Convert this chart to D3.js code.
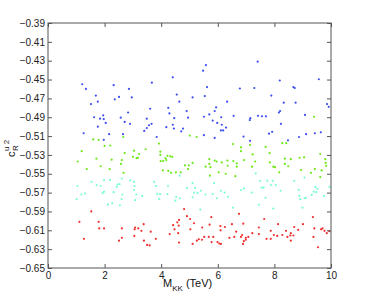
<!DOCTYPE html>
<html>
<head>
<meta charset="utf-8">
<script src="https://cdn.jsdelivr.net/npm/d3@7"></script>
<style>
  body { margin: 0; background: #fff; }
  svg { display: block; font-family: "Liberation Sans", Arial, sans-serif; }
</style>
</head>
<body>
<script>
// scan points, [M_KK in TeV, c_R^u2]
const bluePts = [
  [1.21,-0.455],[1.34,-0.460],[2.32,-0.456],[1.69,-0.467],[2.51,-0.4685],[2.36,-0.471],[1.52,-0.476],[1.76,-0.4735],
  [1.63,-0.490],[1.84,-0.4915],[1.95,-0.488],[1.97,-0.492],[2.57,-0.4905],[2.04,-0.496],[1.76,-0.500],[1.26,-0.507],
  [2.16,-0.508],[2.65,-0.508],[1.97,-0.514],
  [4.41,-0.4476],[3.67,-0.4533],[2.86,-0.460],[2.96,-0.469],[4.55,-0.466],[3.61,-0.481],[4.25,-0.480],[2.83,-0.485],
  [4.29,-0.486],[4.46,-0.491],[3.49,-0.4915],[2.71,-0.495],[2.90,-0.497],[3.66,-0.497],[3.57,-0.4985],[3.49,-0.5015],
  [4.18,-0.5005],[4.41,-0.498],[4.45,-0.502],[3.40,-0.5045],[3.84,-0.511],
  [5.58,-0.4346],[5.48,-0.4406],[5.62,-0.458],[5.11,-0.469],[5.54,-0.4675],[4.64,-0.4735],[6.33,-0.4735],[5.94,-0.4795],
  [5.89,-0.4835],[4.90,-0.4835],[5.70,-0.487],[4.95,-0.4905],[5.51,-0.4895],[6.12,-0.490],[5.82,-0.4935],[5.98,-0.496],
  [6.14,-0.498],[6.29,-0.501],[4.77,-0.502],[4.71,-0.505],[6.11,-0.504],[6.19,-0.504],[5.51,-0.509],[5.89,-0.512],
  [7.41,-0.431],[8.19,-0.451],[6.78,-0.4595],[7.29,-0.459],[7.89,-0.467],[8.20,-0.4835],[8.16,-0.485],[6.56,-0.4885],
  [7.15,-0.491],[7.13,-0.493],[7.42,-0.4885],[7.56,-0.489],[7.70,-0.489],[8.23,-0.497],[7.92,-0.5055],[7.81,-0.5075],
  [6.91,-0.5105],[7.14,-0.515],
  [9.57,-0.4497],[8.67,-0.458],[8.72,-0.459],[8.33,-0.4745],[8.75,-0.4745],[9.86,-0.476],[9.92,-0.479],[9.08,-0.4875],
  [8.48,-0.5145],[8.87,-0.511],[9.12,-0.508],[9.43,-0.507],[9.64,-0.506]
];

const greenPts = [
  [1.60,-0.5135],[1.79,-0.514],[2.00,-0.5205],[2.20,-0.520],[2.66,-0.511],[1.19,-0.526],[1.05,-0.537],[1.71,-0.534],
  [2.25,-0.535],[2.61,-0.5355],[2.58,-0.5395],[1.86,-0.542],[1.37,-0.545],[2.18,-0.545],
  [3.92,-0.518],[3.45,-0.524],[3.04,-0.5255],[2.71,-0.528],[3.22,-0.529],[3.00,-0.532],[3.18,-0.533],[3.13,-0.5335],
  [3.97,-0.5265],[3.97,-0.530],[4.22,-0.531],[4.32,-0.5315],[4.39,-0.532],[4.15,-0.5335],[4.18,-0.5355],[3.98,-0.5365],
  [4.07,-0.5365],[2.67,-0.549],[4.06,-0.5465],[4.25,-0.547],[4.35,-0.549],[4.52,-0.5485],
  [5.01,-0.5095],[5.25,-0.511],[5.70,-0.5345],[5.89,-0.536],[5.96,-0.537],[6.14,-0.538],[6.34,-0.536],[4.84,-0.541],
  [4.97,-0.541],[5.11,-0.5385],[5.70,-0.5395],[5.74,-0.543],[6.35,-0.5415],[4.95,-0.545],[5.57,-0.5425],[4.69,-0.5485],
  [6.03,-0.5485],[6.28,-0.550],[5.72,-0.552],
  [8.28,-0.5175],[6.54,-0.5185],[6.82,-0.522],[7.14,-0.5195],[7.69,-0.5215],[6.82,-0.526],[7.83,-0.528],[7.23,-0.5295],
  [6.55,-0.5365],[6.93,-0.5355],[7.32,-0.537],[7.84,-0.538],[6.67,-0.539],[6.67,-0.5425],[7.21,-0.5425],[7.96,-0.5425],
  [8.02,-0.543],[8.17,-0.5485],[6.62,-0.5525],
  [9.40,-0.4895],[8.42,-0.5175],[9.62,-0.529],[8.37,-0.534],[8.58,-0.5345],[8.89,-0.533],[9.05,-0.5325],[8.37,-0.5395],
  [8.49,-0.542],[9.80,-0.5345],[9.81,-0.5385],[9.83,-0.5415],[8.94,-0.546],[9.43,-0.545],[9.67,-0.5465],[9.29,-0.549],
  [9.62,-0.5535]
];

const cyanPts = [
  [2.61,-0.555],[1.54,-0.5585],[2.19,-0.5565],[1.98,-0.557],[1.72,-0.562],[1.86,-0.563],[2.46,-0.5615],[2.53,-0.561],
  [1.04,-0.563],[2.43,-0.564],[1.98,-0.569],[1.93,-0.5705],[2.32,-0.5695],[1.18,-0.572],[1.31,-0.571],[2.63,-0.572],
  [1.01,-0.577],[2.60,-0.5768],[2.12,-0.5825],[2.27,-0.5815],[2.54,-0.5835],
  [2.91,-0.557],[3.04,-0.5585],[3.75,-0.5585],[3.06,-0.563],[3.82,-0.563],[4.24,-0.563],[3.04,-0.567],[3.12,-0.572],
  [3.33,-0.5735],[3.86,-0.5715],[3.96,-0.5715],[4.22,-0.5715],[4.53,-0.5745],[3.93,-0.577],[4.50,-0.5785],[3.08,-0.578],
  [4.65,-0.552],[5.11,-0.560],[5.87,-0.560],[4.91,-0.565],[5.20,-0.565],[6.11,-0.568],[5.40,-0.568],[5.16,-0.570],
  [5.28,-0.5705],[5.56,-0.572],[5.82,-0.5715],[5.11,-0.575],[6.24,-0.570],[6.36,-0.5745],[4.66,-0.576],[5.97,-0.576],
  [5.38,-0.588],
  [7.34,-0.5495],[7.50,-0.5575],[7.75,-0.5575],[7.94,-0.5575],[6.92,-0.5655],[7.55,-0.5648],[7.62,-0.5648],[6.82,-0.5675],
  [7.20,-0.570],[8.22,-0.568],[7.88,-0.562],[8.05,-0.562],[7.69,-0.5755],[7.45,-0.583],[7.96,-0.587],[6.53,-0.586],
  [8.70,-0.5575],[9.06,-0.554],[8.86,-0.567],[9.45,-0.564],[9.52,-0.566],[9.48,-0.5695],[9.39,-0.569],[9.32,-0.5725],
  [9.75,-0.5735],[9.95,-0.564],[9.11,-0.5755],[9.07,-0.576],[8.88,-0.5735],[8.91,-0.577],[8.99,-0.586]
];

const redPts = [
  [1.53,-0.590],[1.11,-0.601],[1.79,-0.601],[1.81,-0.608],[1.98,-0.608],[2.61,-0.608],[1.27,-0.619],[2.61,-0.618],
  [2.51,-0.621],
  [3.38,-0.6035],[4.42,-0.6045],[3.08,-0.607],[3.19,-0.608],[3.06,-0.609],[3.30,-0.6105],[3.63,-0.6115],[4.47,-0.609],
  [4.30,-0.614],[3.05,-0.616],[3.81,-0.619],[3.39,-0.621],[3.50,-0.6255],[3.59,-0.626],
  [4.81,-0.5875],[4.63,-0.599],[4.91,-0.595],[5.02,-0.598],[4.57,-0.6015],[5.16,-0.6025],[5.77,-0.596],[4.62,-0.605],
  [5.71,-0.604],[6.09,-0.6055],[6.25,-0.6065],[5.03,-0.609],[5.45,-0.607],[4.60,-0.613],[6.10,-0.610],[5.52,-0.617],
  [5.68,-0.617],[5.84,-0.617],[6.41,-0.618],[5.44,-0.620],[5.33,-0.6195],[5.78,-0.6225],[5.26,-0.621],[5.99,-0.6225],
  [6.05,-0.624],[4.63,-0.623],[5.11,-0.6245],[6.11,-0.6245],
  [6.75,-0.5925],[7.64,-0.598],[8.13,-0.6035],[6.50,-0.6035],[6.90,-0.603],[7.45,-0.607],[6.65,-0.6115],[7.87,-0.6105],
  [7.22,-0.613],[7.45,-0.614],[6.86,-0.615],[6.82,-0.617],[7.08,-0.617],[7.98,-0.615],[8.10,-0.616],[8.28,-0.615],
  [6.99,-0.618],[6.58,-0.617],[6.99,-0.620],[7.72,-0.619],[7.87,-0.619],[6.92,-0.6215],[6.89,-0.6245],
  [9.36,-0.596],[9.01,-0.6035],[8.70,-0.6065],[8.41,-0.6105],[8.58,-0.613],[8.84,-0.6095],[9.41,-0.608],[9.65,-0.609],
  [9.70,-0.608],[9.77,-0.6105],[9.94,-0.611],[9.85,-0.613],[8.56,-0.6155],[8.67,-0.6155],[8.46,-0.617],[9.38,-0.617],
  [8.58,-0.621],[9.54,-0.628]
];

const xTicks = [0, 2, 4, 6, 8, 10];
const yTicks = [-0.65, -0.63, -0.61, -0.59, -0.57, -0.55, -0.53, -0.51, -0.49, -0.47, -0.45, -0.43, -0.41, -0.39];

const width = 366;
const height = 302;
const margin = { top: 23, right: 35, bottom: 34, left: 48 };

const svg = d3.select('body')
  .append('svg')
  .attr('width', width)
  .attr('height', height);

const x = d3.scaleLinear()
  .domain([0, 10])
  .range([margin.left, width - margin.right]);

const y = d3.scaleLinear()
  .domain([-0.65, -0.39])
  .range([height - margin.bottom, margin.top]);

const axisColor = '#555';

// points
const series = [
  { pts: bluePts, color: '#3d4ff0' },
  { pts: greenPts, color: '#6fe81a' },
  { pts: cyanPts, color: '#7dfbd8' },
  { pts: redPts, color: '#f03030' }
];

series.forEach(s => {
  svg.append('g')
    .selectAll('circle')
    .data(s.pts)
    .enter()
    .append('circle')
    .attr('cx', d => x(d[0]))
    .attr('cy', d => y(d[1]))
    .attr('r', 1.1)
    .attr('fill', s.color);
});

// axes, ticks pointing inwards like matlab
function styleAxis(g) {
  g.select('.domain').remove();
  g.selectAll('line').attr('stroke', axisColor);
  g.selectAll('text').attr('fill', '#222').style('font-size', '10px');
}

svg.append('g')
  .attr('transform', `translate(0,${height - margin.bottom})`)
  .call(d3.axisBottom(x).tickValues(xTicks).tickSizeInner(-4).tickSizeOuter(0).tickPadding(4))
  .call(styleAxis);

svg.append('g')
  .attr('transform', `translate(0,${margin.top})`)
  .call(d3.axisTop(x).tickValues(xTicks).tickSizeInner(-4).tickSizeOuter(0).tickFormat(''))
  .call(styleAxis);

svg.append('g')
  .attr('transform', `translate(${margin.left},0)`)
  .call(d3.axisLeft(y).tickValues(yTicks).tickSizeInner(-4).tickSizeOuter(0).tickPadding(3).tickFormat(d3.format('.2f')))
  .call(styleAxis);

svg.append('g')
  .attr('transform', `translate(${width - margin.right},0)`)
  .call(d3.axisRight(y).tickValues(yTicks).tickSizeInner(-4).tickSizeOuter(0).tickFormat(''))
  .call(styleAxis);

svg.append('rect')
  .attr('x', margin.left)
  .attr('y', margin.top)
  .attr('width', width - margin.left - margin.right)
  .attr('height', height - margin.top - margin.bottom)
  .attr('fill', 'none')
  .attr('stroke', axisColor)
  .attr('stroke-width', 1);

// x label: M_KK (TeV)
const xl = svg.append('text')
  .attr('x', 163)
  .attr('y', 287)
  .attr('fill', '#111')
  .style('font-size', '11px');
xl.append('tspan').text('M');
xl.append('tspan').attr('dy', 4).style('font-size', '8px').text('KK');
xl.append('tspan').attr('dy', -4).text(' (TeV)');

// y label: c_R^{u2}
const yl = svg.append('g')
  .attr('transform', 'translate(15,157) rotate(-90)')
  .attr('fill', '#111');
yl.append('text').attr('x', 0).attr('y', 0).style('font-size', '11px').text('c');
yl.append('text').attr('x', 6).attr('y', -6).style('font-size', '8px').text('u 2');
yl.append('text').attr('x', 6).attr('y', 3).style('font-size', '8px').text('R');
</script>
</body>
</html>
